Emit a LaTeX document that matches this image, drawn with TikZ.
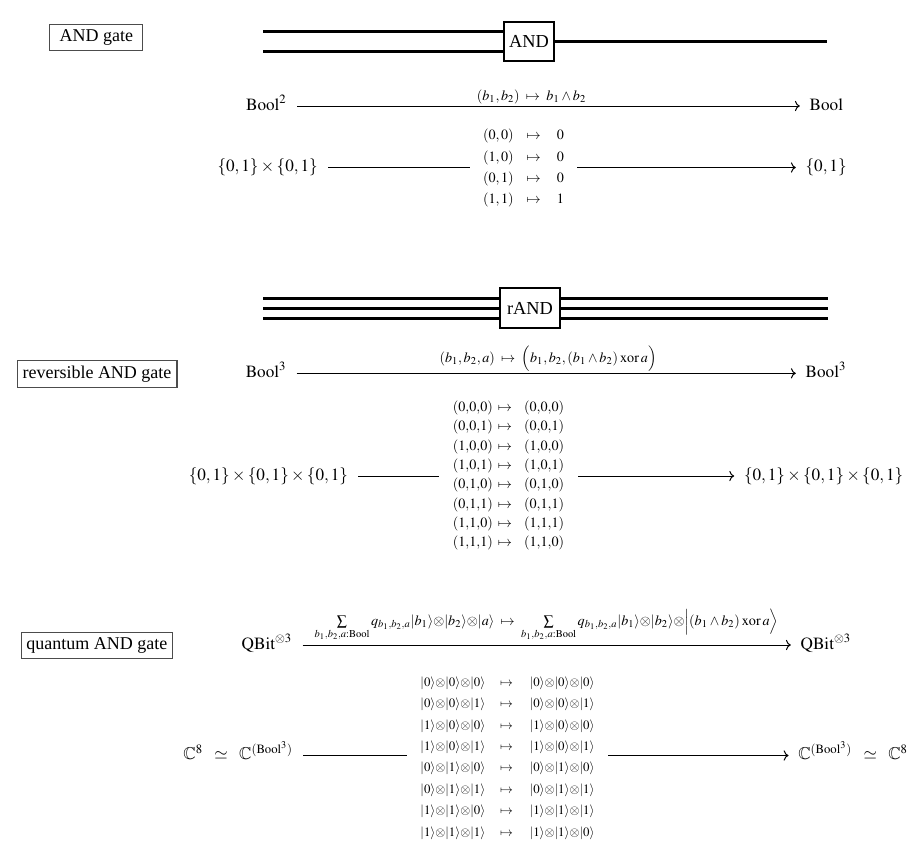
\documentclass[tikz,border=0pt]{standalone}
\usepackage{amssymb}
\usepackage{mathptmx}
\usepackage{fontspec}
\setmainfont{Liberation Serif}
\usetikzlibrary{arrows.meta}
\newcommand{\myket}[1]{|#1\rangle}
\newcommand{\kt}[3]{\myket{#1}{\otimes}\myket{#2}{\otimes}\myket{#3}}
\begin{document}
\begin{tikzpicture}[x=0.6pt,y=-0.6pt,
  titlebox/.style={draw=black!70, line width=0.7pt, inner sep=0pt, font=\fontsize{10.8}{13}\selectfont},
  gatebox/.style={draw, line width=1.2pt, fill=white, inner sep=0pt, font=\fontsize{11}{13}\selectfont},
  wire/.style={line width=1.5pt},
  obj/.style={inner sep=0pt, text height=5pt, text depth=0pt, font=\fontsize{10.3}{12}\selectfont},
  cdarrow/.style={-{To}, line width=0.6pt, shorten <=6pt, shorten >=5.7pt},
  lbl/.style={inner sep=0pt, font=\fontsize{8.5}{10}\selectfont},
  tbl/.style={fill=white, inner xsep=8.1pt, inner ysep=0pt},
]
\useasboundingbox (0,0) rectangle (922,850);

% ---------- AND gate ----------
\node[titlebox, minimum width=55.7pt, minimum height=15.5pt] (t1) at (96.3,37.5) {AND gate};
\node[gatebox, minimum width=30pt, minimum height=23.8pt] (and) at (529,41.5) {AND};
\coordinate (a1) at (263,31.7);
\coordinate (a2) at (263,51.7);
\coordinate (a3) at (827,41.5);
\draw[wire] (a1) -- (a1 -| and.west);
\draw[wire] (a2) -- (a2 -| and.west);
\draw[wire] (and.east) -- (a3);

\node[obj, anchor=east] (s1a) at (287,106) {$\mathrm{Bool}^2$};
\node[obj, anchor=west] (s1b) at (809.3,106) {$\mathrm{Bool}$};
\draw[cdarrow] (s1a) -- (s1b);
\node[lbl] (l1) at (531.5,97) {$(b_1,b_2)\;\mapsto\;b_1\wedge b_2$};

\node[obj, anchor=east] (s1c) at (318,167.5) {$\{0,1\}\times\{0,1\}$};
\node[obj, anchor=west] (s1d) at (805.3,167.5) {$\{0,1\}$};
\draw[cdarrow] (s1c) -- (s1d);
\node[tbl, font=\fontsize{8.5}{12.8}\selectfont] (tab1) at (523.5,167.5)
  {$\begin{array}{@{}c@{\hspace{7.8pt}}c@{\hspace{9.6pt}}c@{}}
   (0,0) & \mapsto & 0\\
   (1,0) & \mapsto & 0\\
   (0,1) & \mapsto & 0\\
   (1,1) & \mapsto & 1
   \end{array}$};

% ---------- reversible AND gate ----------
\node[titlebox, minimum width=95.9pt, minimum height=16.1pt] (t2) at (97,374) {reversible AND gate};
\node[gatebox, minimum width=36pt, minimum height=24pt] (rand) at (530,308.3) {rAND};
\coordinate (r1) at (263,298.3);
\coordinate (r2) at (263,308.3);
\coordinate (r3) at (263,318.5);
\coordinate (q1) at (828,298.3);
\coordinate (q2) at (828,308.3);
\coordinate (q3) at (828,318.5);
\draw[wire] (r1) -- (r1 -| rand.west);
\draw[wire] (r2) -- (r2 -| rand.west);
\draw[wire] (r3) -- (r3 -| rand.west);
\draw[wire] (q1 -| rand.east) -- (q1);
\draw[wire] (q2 -| rand.east) -- (q2);
\draw[wire] (q3 -| rand.east) -- (q3);

\node[obj, anchor=east] (s2a) at (286.7,373.3) {$\mathrm{Bool}^3$};
\node[obj, anchor=west] (s2b) at (805.3,373.3) {$\mathrm{Bool}^3$};
\draw[cdarrow] (s2a) -- (s2b);
\node[lbl] (l2) at (548,359) {$(b_1,b_2,a)\;\mapsto\;\Big(b_1,b_2,(b_1\wedge b_2)\mathbin{\mathrm{xor}}a\Big)$};

\node[obj, anchor=east] (s2c) at (348.3,476) {$\{0,1\}\times\{0,1\}\times\{0,1\}$};
\node[obj, anchor=west] (s2d) at (743.7,476) {$\{0,1\}\times\{0,1\}\times\{0,1\}$};
\draw[cdarrow] (s2c) -- (s2d);
\node[tbl, font=\fontsize{8.5}{11.6}\selectfont] (tab2) at (508.5,475.4)
  {$\begin{array}{@{}c@{\hspace{3pt}}c@{\hspace{7.2pt}}c@{}}
   (0{,}0{,}0) & \mapsto & (0{,}0{,}0)\\
   (0{,}0{,}1) & \mapsto & (0{,}0{,}1)\\
   (1{,}0{,}0) & \mapsto & (1{,}0{,}0)\\
   (1{,}0{,}1) & \mapsto & (1{,}0{,}1)\\
   (0{,}1{,}0) & \mapsto & (0{,}1{,}0)\\
   (0{,}1{,}1) & \mapsto & (0{,}1{,}1)\\
   (1{,}1{,}0) & \mapsto & (1{,}1{,}1)\\
   (1{,}1{,}1) & \mapsto & (1{,}1{,}0)
   \end{array}$};

% ---------- quantum AND gate ----------
\node[titlebox, minimum width=90.7pt, minimum height=15.9pt] (t3) at (96.9,645.5) {quantum AND gate};

\node[obj, anchor=east] (s3a) at (292.5,645) {$\mathrm{QBit}^{\otimes 3}$};
\node[obj, anchor=west] (s3b) at (800.3,645) {$\mathrm{QBit}^{\otimes 3}$};
\draw[cdarrow] (s3a) -- (s3b);
\node[lbl] (l3) at (546.5,625)
  {$\sum\limits_{b_1,b_2,a:\mathrm{Bool}} q_{b_1,b_2,a}\myket{b_1}{\otimes}\myket{b_2}{\otimes}\myket{a}
    \;\mapsto\;
    \sum\limits_{b_1,b_2,a:\mathrm{Bool}} q_{b_1,b_2,a}\myket{b_1}{\otimes}\myket{b_2}{\otimes}\Big|(b_1\wedge b_2)\mathbin{\mathrm{xor}}a\Big\rangle$};

\node[obj, anchor=east] (s3c) at (293.3,755.5) {$\mathbb{C}^8\;\;\simeq\;\;\mathbb{C}^{(\mathrm{Bool}^3)}$};
\node[obj, anchor=west] (s3d) at (798,755.5) {$\mathbb{C}^{(\mathrm{Bool}^3)}\;\;\simeq\;\;\mathbb{C}^8$};
\draw[cdarrow] (s3c) -- (s3d);
\node[tbl, font=\fontsize{7.7}{12.85}\selectfont] (tab3) at (507.5,756.9)
  {$\begin{array}{@{}c@{\hspace{9pt}}c@{\hspace{10pt}}c@{}}
   \kt000 & \mapsto & \kt000\\
   \kt001 & \mapsto & \kt001\\
   \kt100 & \mapsto & \kt100\\
   \kt101 & \mapsto & \kt101\\
   \kt010 & \mapsto & \kt010\\
   \kt011 & \mapsto & \kt011\\
   \kt110 & \mapsto & \kt111\\
   \kt111 & \mapsto & \kt110
   \end{array}$};
\end{tikzpicture}
\end{document}
